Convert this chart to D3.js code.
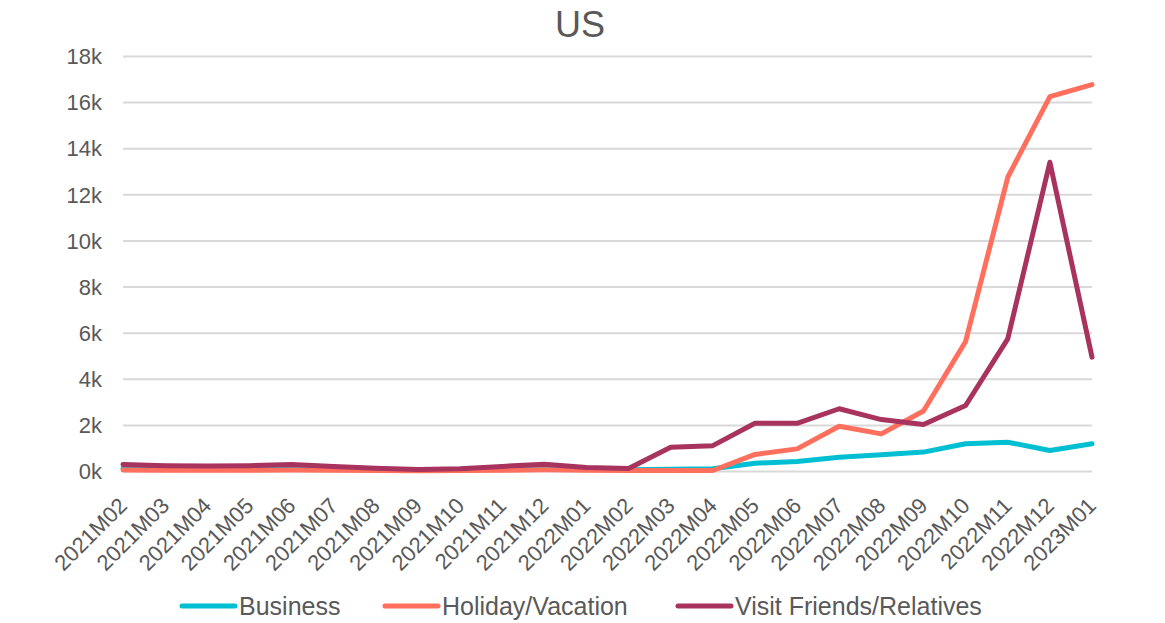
<!DOCTYPE html>
<html>
<head>
<meta charset="utf-8">
<script src="https://cdn.jsdelivr.net/npm/d3@7"></script>
<style>
  body { margin: 0; background: #fff; }
  svg text { font-family: "Liberation Sans", Arial, sans-serif; fill: #595959; }
</style>
</head>
<body>
<div id="chart"></div>
<script>
const months = [
    "2021M02", "2021M03", "2021M04", "2021M05", "2021M06", "2021M07", "2021M08", "2021M09",
    "2021M10", "2021M11", "2021M12", "2022M01", "2022M02", "2022M03", "2022M04", "2022M05",
    "2022M06", "2022M07", "2022M08", "2022M09", "2022M10", "2022M11", "2022M12", "2023M01"
];
const business = [120, 90, 80, 80, 90, 80, 60, 40, 50, 70, 90, 60, 50, 80, 100, 340, 410, 600, 700, 820, 1180, 1250, 890, 1180];
const holiday = [40, 30, 30, 30, 40, 30, 20, 10, 20, 30, 50, 30, 20, 20, 20, 720, 960, 1940, 1610, 2600, 5620, 12740, 16240, 16760];
const visit = [280, 230, 220, 230, 280, 200, 120, 60, 100, 200, 290, 150, 110, 1030, 1100, 2070, 2070, 2700, 2230, 2020, 2840, 5730, 13390, 4940];
const yTicks = [0, 2000, 4000, 6000, 8000, 10000, 12000, 14000, 16000, 18000];

const series = [
    { name: "Business", values: business, color: "#00BFD3" },
    { name: "Holiday/Vacation", values: holiday, color: "#FF6F5E" },
    { name: "Visit Friends/Relatives", values: visit, color: "#A8335E" }
];

const width = 1165, height = 623;
const margin = { top: 56, right: 73, bottom: 152, left: 123 };

const svg = d3.select("#chart").append("svg")
    .attr("width", width)
    .attr("height", height);

const x = d3.scalePoint()
    .domain(months)
    .range([margin.left, width - margin.right]);

const y = d3.scaleLinear()
    .domain([0, 18000])
    .range([height - margin.bottom, margin.top]);

// titre
svg.append("text")
    .attr("x", 580)
    .attr("y", 37)
    .attr("text-anchor", "middle")
    .attr("font-size", "36px")
    .text("US");

// grille horizontale + labels
const yAxis = svg.append("g")
    .attr("transform", `translate(${margin.left},0)`)
    .call(d3.axisLeft(y)
        .tickValues(yTicks)
        .tickFormat(d => (d / 1000) + "k")
        .tickSize(-(width - margin.left - margin.right))
        .tickPadding(21));

yAxis.selectAll("line").attr("stroke", "#d9d9d9").attr("stroke-width", 2);
yAxis.select(".domain").remove();
yAxis.selectAll("text").attr("font-size", "22px").attr("dy", "0.35em");

// axe X
const xAxis = svg.append("g")
    .attr("transform", `translate(0,${height - margin.bottom})`)
    .call(d3.axisBottom(x).tickSize(0).tickPadding(0));

xAxis.select(".domain").remove();
xAxis.selectAll("text")
    .attr("font-size", "22px")
    .attr("text-anchor", "end")
    .attr("dy", null)
    .attr("y", 0)
    .attr("transform", "translate(5,36) rotate(-45)");

// lignes
const line = d3.line()
    .x((d, i) => x(months[i]))
    .y(d => y(d));

svg.selectAll("path.series")
    .data(series)
    .enter()
    .append("path")
    .attr("class", "series")
    .attr("d", d => line(d.values))
    .attr("fill", "none")
    .attr("stroke", d => d.color)
    .attr("stroke-width", 5)
    .attr("stroke-linejoin", "round")
    .attr("stroke-linecap", "round");

// légende
const legendX = [182, 385, 678];
const legend = svg.append("g")
    .selectAll("g")
    .data(series)
    .enter()
    .append("g")
    .attr("transform", (d, i) => `translate(${legendX[i]},606)`);

legend.append("line")
    .attr("x1", 0).attr("x2", 53)
    .attr("stroke", d => d.color)
    .attr("stroke-width", 5)
    .attr("stroke-linecap", "round");

legend.append("text")
    .attr("x", 57)
    .attr("dy", "0.35em")
    .attr("font-size", "25px")
    .text(d => d.name);
</script>
</body>
</html>
